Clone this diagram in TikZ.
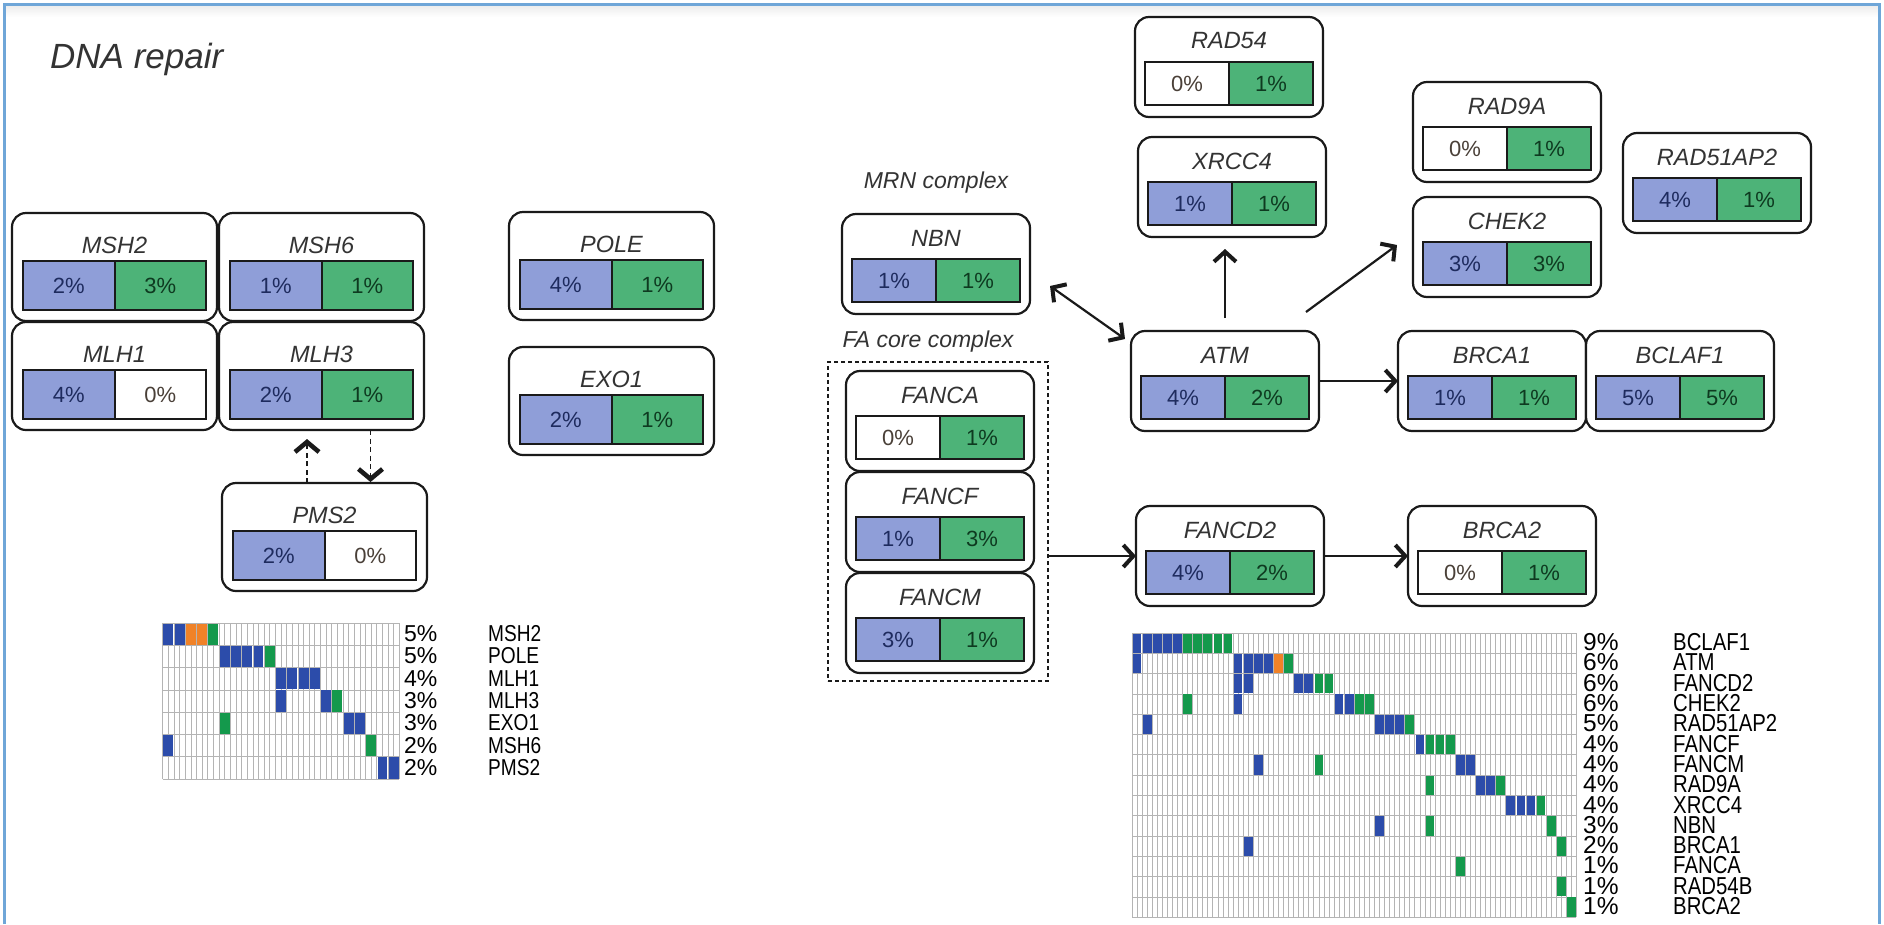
\documentclass[tikz,border=0pt]{standalone}
\usepackage{fontspec}
\setmainfont{Liberation Sans}
\setsansfont{Liberation Sans}
\newfontfamily\narrowsans[FakeStretch=0.83]{Liberation Sans}
\usetikzlibrary{arrows.meta,calc}

\definecolor{frameblue}{HTML}{6FA6D8}
\definecolor{cellblue}{HTML}{8F9ED8}
\definecolor{cellgreen}{HTML}{4DB378}
\definecolor{txtblue}{HTML}{1E2B5E}
\definecolor{txtgreen}{HTML}{0E3A20}
\definecolor{txtwhite}{HTML}{4A4038}
\definecolor{txtgray}{HTML}{333333}
\definecolor{inkdark}{HTML}{1A1A1A}
\definecolor{opb}{HTML}{2C4CAA}
\definecolor{opg}{HTML}{14994C}
\definecolor{opo}{HTML}{F08228}
\definecolor{opgrid}{HTML}{B4B4B4}

\tikzset{
  gbox/.style={draw=inkdark, line width=2.2pt, rounded corners=14pt, fill=white, inner sep=0pt, outer sep=0pt},
  glabel/.style={font=\fontsize{23.5}{23.5}\selectfont\itshape, text=txtgray, inner sep=0pt},
  gcell/.style={draw=inkdark, line width=2pt, inner sep=0pt, outer sep=0pt, font=\fontsize{22}{22}\selectfont},
  cb/.style={gcell, fill=cellblue, text=txtblue},
  cg/.style={gcell, fill=cellgreen, text=txtgreen},
  cw/.style={gcell, fill=white, text=txtwhite},
  fabox/.style={draw=inkdark, line width=1.6pt, dash pattern=on 4pt off 3pt, inner sep=0pt, outer sep=0pt},
  cplx/.style={font=\fontsize{23}{23}\selectfont\itshape, text=txtgray, inner sep=0pt},
  barb/.tip={Straight Barb[length=10pt,width=22pt,line width=4pt]},
  arr/.style={draw=inkdark, line width=2.2pt, -barb},
  darr/.style={draw=inkdark, line width=2.2pt, barb-barb},
  dasharr/.style={draw=inkdark, line width=1.8pt, dash pattern=on 5pt off 3.5pt, -{Straight Barb[length=10pt,width=24pt,line width=4.6pt]}},
  gridline/.style={draw=opgrid, line width=0.7pt},
  oplab/.style={anchor=west, inner sep=0pt, text=black, text height=16pt, text depth=1pt}
}

% gene box: name, top-left corner, gene, left value, right value, left style, right style
\newcommand\gene[7]{%
  \node[gbox, minimum width=\gw pt, minimum height=\gh pt, anchor=north west] (#1) at (#2) {};
  \node[glabel] (#1-t) at ($(#1.north)+(0,\gly)$) {#3};
  \node[#6, minimum width=\gcw pt, minimum height=\gbh pt, anchor=north west] (#1-l) at ($(#1.north west)+(\gbx,\gby)$) {#4};
  \node[#7, minimum width=\gcw pt, minimum height=\gbh pt, anchor=north west] (#1-r) at (#1-l.north east) {#5};
}

\begin{document}
\begin{tikzpicture}[x=1pt,y=-1pt]
\useasboundingbox (0,0) rectangle (1884,924);
\fill[white] (0,0) rectangle (1884,924);
\shade[top color=black!7, bottom color=white] (6,6) rectangle (1878,17);
\draw[frameblue, line width=3pt] (4.5,924) -- (4.5,4.5) -- (1879.5,4.5) -- (1879.5,924);

\node[anchor=base west, inner sep=0pt, font=\fontsize{35}{35}\selectfont\itshape, text=txtgray] (title) at (50,68) {DNA repair};

% mismatch repair and polymerase genes
\def\gw{205}\def\gh{108}\def\gly{32}\def\gbx{11}\def\gby{48}\def\gbh{49}\def\gcw{91.5}
\gene{MSH2}{12,213}{MSH2}{2\%}{3\%}{cb}{cg}
\gene{MSH6}{219,213}{MSH6}{1\%}{1\%}{cb}{cg}
\gene{MLH1}{12,322}{MLH1}{4\%}{0\%}{cb}{cw}
\gene{MLH3}{219,322}{MLH3}{2\%}{1\%}{cb}{cg}
\gene{PMS2}{222,483}{PMS2}{2\%}{0\%}{cb}{cw}
\gene{POLE}{509,212}{POLE}{4\%}{1\%}{cb}{cg}
\gene{EXO1}{509,347}{EXO1}{2\%}{1\%}{cb}{cg}

\draw[dasharr] ($(PMS2.north)+(-17.5,0)$) -- ($(MLH3.south)+(-14.5,9)$);
\draw[dasharr] ($(MLH3.south)+(49,0)$) -- ($(PMS2.north)+(46,-1)$);

% double-strand break and Fanconi genes
\def\gw{188}\def\gh{100}\def\gly{24}\def\gbx{10}\def\gby{45}\def\gbh{43}\def\gcw{84}
\node[cplx] (mrn) at (936,183) {MRN complex};
\gene{NBN}{842,214}{NBN}{1\%}{1\%}{cb}{cg}
\node[cplx] (facore) at (928,342) {FA core complex};
\node[fabox, minimum width=220pt, minimum height=319pt, anchor=north west] (FA) at (828,362) {};
\gene{FANCA}{846,371}{FANCA}{0\%}{1\%}{cw}{cg}
\gene{FANCF}{846,472}{FANCF}{1\%}{3\%}{cb}{cg}
\gene{FANCM}{846,573}{FANCM}{3\%}{1\%}{cb}{cg}
\gene{ATM}{1131,331}{ATM}{4\%}{2\%}{cb}{cg}
\gene{FANCD2}{1136,506}{FANCD2}{4\%}{2\%}{cb}{cg}
\gene{BRCA2}{1408,506}{BRCA2}{0\%}{1\%}{cw}{cg}
\gene{BRCA1}{1398,331}{BRCA1}{1\%}{1\%}{cb}{cg}
\gene{BCLAF1}{1586,331}{BCLAF1}{5\%}{5\%}{cb}{cg}
\gene{RAD54}{1135,17}{RAD54}{0\%}{1\%}{cw}{cg}
\gene{XRCC4}{1138,137}{XRCC4}{1\%}{1\%}{cb}{cg}
\gene{RAD9A}{1413,82}{RAD9A}{0\%}{1\%}{cw}{cg}
\gene{CHEK2}{1413,197}{CHEK2}{3\%}{3\%}{cb}{cg}
\gene{RAD51AP2}{1623,133}{RAD51AP2}{4\%}{1\%}{cb}{cg}

\draw[darr] ($(NBN.east)+(20,22)$) -- ($(ATM.west)+(-6,-42)$);
\draw[arr, shorten <=13pt, shorten >=12pt] (ATM.north) -- (ATM.north |- XRCC4.south);
\draw[arr] ($(ATM.north east)+(-13,-19)$) -- ($(CHEK2.west)+(-16,-2)$);
\draw[arr] (ATM.east) -- (BRCA1.west);
\draw[arr] (FA.east |- FANCD2.west) -- (FANCD2.west);
\draw[arr] (FANCD2.east) -- (BRCA2.west);

% left alteration matrix
\foreach \i in {0,...,42} \draw[gridline] ({162.7+\i*5.635},623) -- ++(0,156.1);
\foreach \j in {0,...,7} \draw[gridline] (162.7,{623+\j*22.3}) -- ++(236.7,0);
\foreach \rw/\cl/\clr in {0/0/opb,0/1/opb,0/2/opo,0/3/opo,0/4/opg,
  1/5/opb,1/6/opb,1/7/opb,1/8/opb,1/9/opg,
  2/10/opb,2/11/opb,2/12/opb,2/13/opb,
  3/10/opb,3/14/opb,3/15/opg,
  4/5/opg,4/16/opb,4/17/opb,
  5/0/opb,5/18/opg,
  6/19/opb,6/20/opb}
  \fill[\clr] ({162.7+\cl*11.27+0.7},{623+\rw*22.3+0.5}) rectangle ++(9.87,21.3);
\foreach \rw/\pc/\gn in {0/5/MSH2,1/5/POLE,2/4/MLH1,3/3/MLH3,4/3/EXO1,5/2/MSH6,6/2/PMS2} {
  \node[oplab, font=\fontsize{23}{23}\selectfont] (lp\rw) at (404,{623+(\rw+0.5)*22.3}) {\pc\%};
  \node[oplab, font=\fontsize{23}{23}\narrowsans] (lg\rw) at (488,{623+(\rw+0.5)*22.3}) {\gn};
}

% right alteration matrix
\foreach \i in {0,...,88} \draw[gridline] ({1132+\i*5.05},633) -- ++(0,284.2);
\foreach \j in {0,...,14} \draw[gridline] (1132,{633+\j*20.3}) -- ++(444.4,0);
\foreach \rw/\cl/\clr in {0/0/opb,0/1/opb,0/2/opb,0/3/opb,0/4/opb,0/5/opg,0/6/opg,0/7/opg,0/8/opg,0/9/opg,
  1/0/opb,1/10/opb,1/11/opb,1/12/opb,1/13/opb,1/14/opo,1/15/opg,
  2/10/opb,2/11/opb,2/16/opb,2/17/opb,2/18/opg,2/19/opg,
  3/5/opg,3/10/opb,3/20/opb,3/21/opb,3/22/opg,3/23/opg,
  4/1/opb,4/24/opb,4/25/opb,4/26/opb,4/27/opg,
  5/28/opb,5/29/opg,5/30/opg,5/31/opg,
  6/12/opb,6/18/opg,6/32/opb,6/33/opb,
  7/29/opg,7/34/opb,7/35/opb,7/36/opg,
  8/37/opb,8/38/opb,8/39/opb,8/40/opg,
  9/24/opb,9/29/opg,9/41/opg,
  10/11/opb,10/42/opg,
  11/32/opg,
  12/42/opg,
  13/43/opg}
  \fill[\clr] ({1132+\cl*10.1+0.7},{633+\rw*20.3+0.5}) rectangle ++(8.7,19.3);
\foreach \rw/\pc/\gn in {0/9/BCLAF1,1/6/ATM,2/6/FANCD2,3/6/CHEK2,4/5/RAD51AP2,5/4/FANCF,6/4/FANCM,
  7/4/RAD9A,8/4/XRCC4,9/3/NBN,10/2/BRCA1,11/1/FANCA,12/1/RAD54B,13/1/BRCA2} {
  \node[oplab, font=\fontsize{24.5}{24.5}\selectfont] (rp\rw) at (1583,{633+(\rw+0.5)*20.3}) {\pc\%};
  \node[oplab, font=\fontsize{24.5}{24.5}\narrowsans] (rg\rw) at (1673,{633+(\rw+0.5)*20.3}) {\gn};
}
\end{tikzpicture}
\end{document}
